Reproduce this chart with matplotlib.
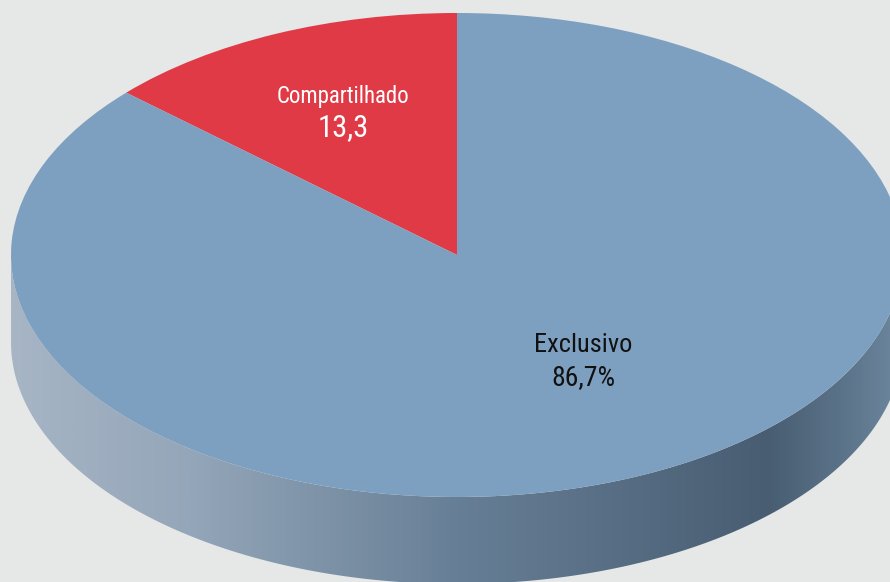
import numpy as np
import matplotlib
matplotlib.use("Agg")
import matplotlib.pyplot as plt
from matplotlib.transforms import Affine2D
from matplotlib.patches import Polygon
from matplotlib.colors import LinearSegmentedColormap

# dados
categorias = ["Compartilhado", "Exclusivo"]
valores = [13.3, 86.7]
rotulos_valor = ["13,3", "86,7%"]
cores = ["#e03a47", "#7ea0c0"]

fundo = "#e6e7e7"
fonte = ["Liberation Sans Narrow", "Roboto Condensed", "DejaVu Sans"]

fig = plt.figure(figsize=(8.9, 5.82), dpi=100, facecolor=fundo)
ax = fig.add_axes([0, 0, 1, 1])
ax.set_facecolor(fundo)
ax.set_xlim(0, 890)
ax.set_ylim(582, 0)
ax.axis("off")

cx, cy = 457, 255
rx, ry = 446, 242
prof = 87

# lateral (parte de baixo da elipse) com gradiente
t = np.linspace(np.pi, 2 * np.pi, 300)
xs = cx + rx * np.cos(t)
ys = cy - ry * np.sin(t)
pts = np.vstack([np.column_stack([xs, ys]), np.column_stack([xs[::-1], ys[::-1] + prof])])
lado = Polygon(pts, closed=True, facecolor="none", edgecolor="none")
ax.add_patch(lado)
cmap = LinearSegmentedColormap.from_list("lado", [
    (0.0, "#a7b5c5"), (0.2, "#94a6b9"), (0.5, "#677f96"),
    (0.85, "#485d72"), (0.93, "#5a7288"), (1.0, "#6d879e")])
grad = np.linspace(0, 1, 512).reshape(1, -1)
img = ax.imshow(grad, cmap=cmap, extent=[cx - rx, cx + rx, cy + ry + prof, cy], aspect="auto", zorder=1)
img.set_clip_path(lado)

# topo
wedges, _ = ax.pie(valores, colors=cores, startangle=90, counterclock=True, radius=1, center=(0, 0),
                   wedgeprops=dict(linewidth=0))
tr = Affine2D().scale(rx, -ry).translate(cx, cy) + ax.transData
for w in wedges:
    w.set_transform(tr)
    w.set_zorder(2)
ax.set_xlim(0, 890)
ax.set_ylim(582, 0)
ax.set_aspect("auto")

kw = dict(ha="center", va="center", family=fonte, fontstretch="condensed", zorder=3)
ax.text(343, 97, categorias[0], color="white", fontsize=16.5, **kw)
ax.text(343, 128, rotulos_valor[0], color="white", fontsize=22, **kw)
ax.text(583, 345, categorias[1], color="#111111", fontsize=19, **kw)
ax.text(583, 378, rotulos_valor[1], color="#111111", fontsize=20, **kw)

fig.savefig("out.png", dpi=100, facecolor=fundo)
